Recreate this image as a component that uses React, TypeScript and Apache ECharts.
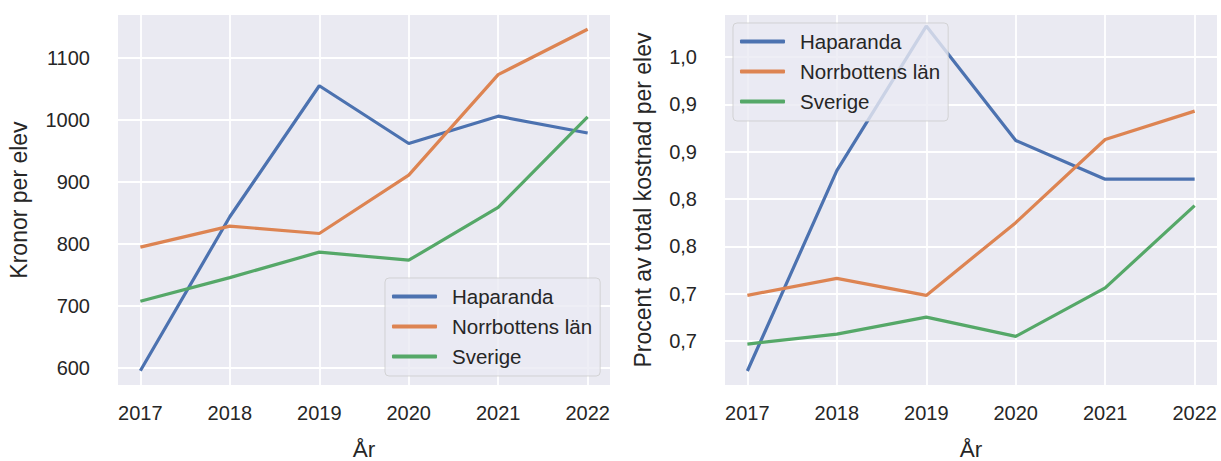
import React, { useEffect, useRef } from "react";
import * as echarts from "echarts";

const years = [2017, 2018, 2019, 2020, 2021, 2022];
const seriesNames = ["Haparanda", "Norrbottens län", "Sverige"];

const haparandaKr = [596, 844, 1055, 962, 1006, 979];
const norrbottenKr = [795, 829, 817, 911, 1073, 1146];
const sverigeKr = [708, 746, 787, 774, 859, 1005];

const haparandaPct = [0.618, 0.83, 0.983, 0.862, 0.821, 0.821];
const norrbottenPct = [0.698, 0.716, 0.698, 0.775, 0.863, 0.893];
const sverigePct = [0.6465, 0.657, 0.675, 0.6546, 0.706, 0.793];

const leftTicks = [600, 700, 800, 900, 1000, 1100];
const rightTicks = [0.65, 0.7, 0.75, 0.8, 0.85, 0.9, 0.95];
const rightTickLabels = ["0,7", "0,7", "0,8", "0,8", "0,9", "0,9", "1,0"];

const colors = ["#4C72B0", "#DD8452", "#55A868"];
const TEXT = "#262626";
const FONT = "Liberation Sans";

export default function App() {
  const ref = useRef<HTMLDivElement>(null);
  useEffect(() => {
    if (!ref.current) return;
    const chart = echarts.init(ref.current, null, { renderer: "svg" });
    const xAxis = [0, 1].map((i) => ({
      type: "value",
      gridIndex: i,
      min: 2016.75,
      max: 2022.25,
      axisLine: { show: false },
      axisTick: { show: false, customValues: years },
      axisLabel: {
        customValues: years,
        margin: 18,
        fontSize: 20,
        color: TEXT,
        fontFamily: FONT,
        formatter: (v: number) => String(v),
      },
      splitLine: { show: true, lineStyle: { color: "#ffffff", width: 1.8 } },
      name: "År",
      nameLocation: "middle",
      nameGap: 53,
      nameTextStyle: { fontSize: 22.5, color: TEXT, fontFamily: FONT },
    }));
    const yAxis = [
      {
        type: "value",
        gridIndex: 0,
        min: 573,
        max: 1169,
        axisLine: { show: false },
        axisTick: { show: false, customValues: leftTicks },
        axisLabel: {
          customValues: leftTicks,
          margin: 28,
          fontSize: 20,
          color: TEXT,
          fontFamily: FONT,
          formatter: (v: number) => String(v),
        },
        splitLine: { show: true, lineStyle: { color: "#ffffff", width: 1.8 } },
        name: "Kronor per elev",
        nameLocation: "middle",
        nameGap: 88,
        nameTextStyle: { fontSize: 23, color: TEXT, fontFamily: FONT },
      },
      {
        type: "value",
        gridIndex: 1,
        min: 0.6032,
        max: 0.9947,
        axisLine: { show: false },
        axisTick: { show: false, customValues: rightTicks },
        axisLabel: {
          customValues: rightTicks,
          margin: 28,
          fontSize: 20,
          color: TEXT,
          fontFamily: FONT,
          formatter: (v: number) => {
            let best = 0;
            rightTicks.forEach((t, k) => {
              if (Math.abs(t - v) < Math.abs(rightTicks[best] - v)) best = k;
            });
            return rightTickLabels[best];
          },
        },
        splitLine: { show: true, lineStyle: { color: "#ffffff", width: 1.8 } },
        name: "Procent av total kostnad per elev",
        nameLocation: "middle",
        nameGap: 71,
        nameTextStyle: { fontSize: 23, color: TEXT, fontFamily: FONT },
      },
    ];
    const mk = (name: string, vals: number[], idx: number, c: string) => ({
      type: "line",
      name,
      xAxisIndex: idx,
      yAxisIndex: idx,
      data: years.map((y, i) => [y, vals[i]]),
      symbol: "none",
      color: c,
      lineStyle: { width: 3.2, color: c },
      z: 2,
    });
    const legendBase = {
      orient: "vertical",
      data: seriesNames,
      icon: "roundRect",
      itemWidth: 45,
      itemHeight: 4,
      itemGap: 9,
      padding: [8, 8, 9, 7],
      backgroundColor: "rgba(234,234,242,0.8)",
      borderColor: "rgba(204,204,204,0.8)",
      borderWidth: 1,
      borderRadius: 4,
      z: 10,
      textStyle: {
        fontSize: 20.5,
        color: TEXT,
        fontFamily: FONT,
        lineHeight: 21,
        padding: [0, 0, 0, 10],
      },
      selectedMode: false,
    };
    const gridBase = {
      top: 15,
      bottom: 76,
      show: true,
      backgroundColor: "#EAEAF2",
      borderWidth: 0,
      containLabel: false,
      outerBoundsMode: "none",
    };
    chart.setOption({
      animation: false,
      textStyle: { fontFamily: FONT },
      grid: [
        { ...gridBase, left: 118, right: 611 },
        { ...gridBase, left: 725, right: 4 },
      ],
      xAxis,
      yAxis,
      legend: [
        { ...legendBase, left: 385, top: 278 },
        { ...legendBase, left: 733, top: 23 },
      ],
      series: [
        mk(seriesNames[0], haparandaKr, 0, colors[0]),
        mk(seriesNames[1], norrbottenKr, 0, colors[1]),
        mk(seriesNames[2], sverigeKr, 0, colors[2]),
        mk(seriesNames[0], haparandaPct, 1, colors[0]),
        mk(seriesNames[1], norrbottenPct, 1, colors[1]),
        mk(seriesNames[2], sverigePct, 1, colors[2]),
      ],
    });
    return () => chart.dispose();
  }, []);
  return (
    <div
      ref={ref}
      style={{ position: "fixed", left: 0, top: 0, width: 1221, height: 461, background: "#ffffff" }}
    />
  );
}
